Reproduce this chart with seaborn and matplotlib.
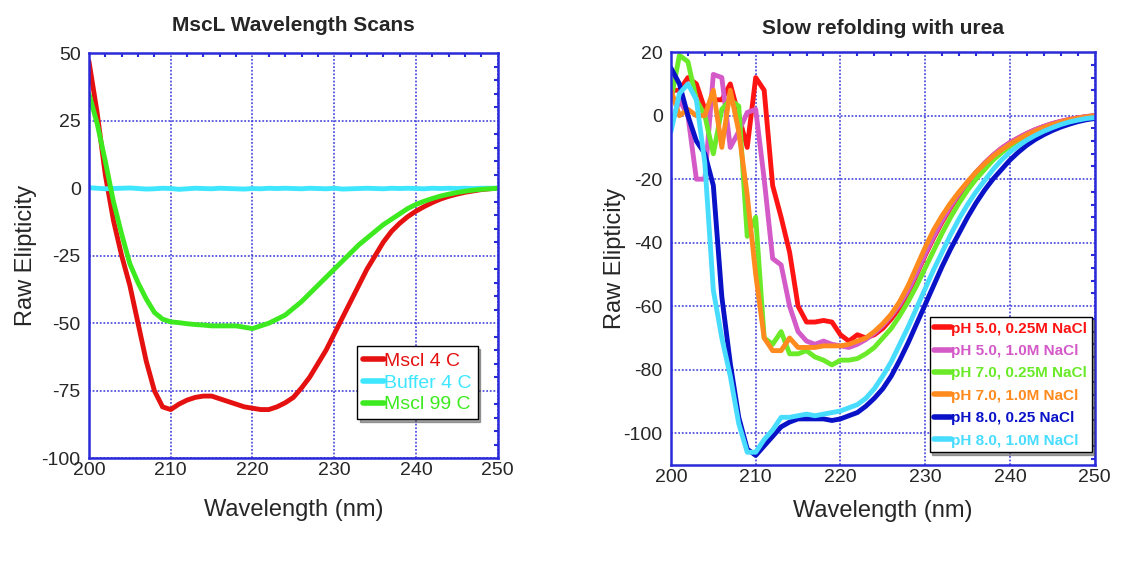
import numpy as np
import pandas as pd
import seaborn as sns
import matplotlib.pyplot as plt
from matplotlib.ticker import MultipleLocator

# dati (1 punto per nm, 200-250)
wl = list(range(200, 251))

mscl_4c = [47, 28, 5, -12, -25, -36, -50, -64, -75, -81, -82, -80, -78.5, -77.5, -77, -77,
           -78, -79, -80, -81, -81.5, -82, -82, -81, -79.5, -77.5, -74, -70, -65, -60, -54,
           -48, -42, -36, -30, -25, -20, -16, -13, -10.5, -8.5, -6.8, -5.3, -4, -3, -2.2,
           -1.5, -1, -0.5, -0.2, 0]
buffer_4c = [0.2, 0, -0.2, -0.1, 0, 0.1, -0.1, -0.3, -0.2, 0, -0.1, -0.4, -0.2, 0, -0.1,
             -0.2, 0, -0.1, -0.2, -0.3, -0.1, -0.2, 0, -0.1, 0, -0.1, -0.2, 0, -0.1, -0.2,
             0, -0.3, -0.2, -0.1, 0, -0.1, -0.2, 0, -0.1, 0, -0.1, -0.2, 0, -0.1, 0, -0.1,
             0, -0.1, 0, 0, 0]
mscl_99c = [35, 24, 10, -5, -17, -28, -35, -41, -46, -48.5, -49.5, -49.8, -50.2, -50.5,
            -50.7, -51, -51, -51, -51, -51.5, -52, -51, -50, -48.5, -47, -44.5, -42, -39,
            -36, -33, -30, -27, -24, -21, -18.5, -16, -13.5, -11.5, -9.5, -7.5, -6, -4.8,
            -3.8, -2.9, -2.2, -1.6, -1.1, -0.7, -0.4, -0.2, 0]

ph5_025 = [8, 8, 12, 10, 2, 5, 5, 10, 0, -10, 12, 8, -22, -32, -43, -60, -65, -65, -64.5,
           -65, -69, -71, -69, -70, -69, -67, -64, -60.5, -56, -50, -44, -38.5, -33.5,
           -29, -25, -21.5, -18, -15, -12.5, -10.3, -8.5, -7, -5.6, -4.4, -3.4, -2.5,
           -1.8, -1.2, -0.7, -0.3, 0]
ph5_10 = [-3, 5, 0, -20, -20, 13, 12, -10, -5, 1, 2, -20, -45, -47, -60, -68, -71, -72,
          -71, -72, -72.5, -73, -72, -70.5, -68.5, -66, -63, -59.5, -55, -49.5, -43.5,
          -38, -33, -28.5, -24.5, -21, -17.8, -15, -12.5, -10.3, -8.5, -7, -5.6, -4.4,
          -3.4, -2.5, -1.8, -1.2, -0.7, -0.3, 0]
ph7_025 = [5, 19, 17, 5, 0, -12, 2, 5, 3, -38, -32, -70, -72, -68, -75, -75, -74, -76, -77,
           -78.5, -77, -77, -76.5, -75, -73, -70, -67, -63, -58.5, -53.5, -48, -42.5, -37,
           -32, -27.5, -23.5, -20, -17, -14, -11.7, -9.6, -7.8, -6.3, -5, -3.9, -3, -2.2,
           -1.6, -1.1, -0.8, -0.6]
ph7_10 = [8, 0, 2, 0, 0, 8, -10, 8, -5, -25, -50, -70, -74, -74, -70, -73, -73, -73, -72.5,
          -72.5, -72.5, -72, -71, -70, -68, -65.5, -62.5, -58.5, -53.5, -47.5, -41.5, -36,
          -31.5, -27.5, -24, -20.8, -17.8, -15.2, -12.8, -10.8, -9, -7.4, -6, -4.8, -3.7,
          -2.8, -2, -1.3, -0.8, -0.4, 0]
ph8_025 = [15, 10, 0, -8, -12, -22, -57, -78, -95, -105, -107, -104, -101, -98, -96.5,
           -95.5, -95.5, -95.5, -95.5, -96, -95.5, -94.5, -93.5, -91.5, -89, -86, -82, -77,
           -71.5, -65.5, -59.5, -53.5, -47.5, -42, -37, -32, -27.5, -23.5, -20, -17, -14,
           -11.5, -9.3, -7.5, -6, -4.7, -3.6, -2.7, -1.9, -1.3, -0.9]
ph8_10 = [-5, 7, 10, 5, -15, -55, -70, -82, -97, -106, -106, -102, -99, -95, -95, -94.5,
          -94, -94.5, -94, -93.5, -93, -92, -91, -89, -86, -82, -77.5, -72, -66.5, -60.5,
          -54.5, -48.5, -43, -37.5, -32.5, -28, -24, -20.5, -17, -14, -11.5, -9.5, -7.7,
          -6.2, -4.9, -3.8, -2.8, -2, -1.4, -0.9, -0.6]

sx_labels = ['Mscl 4 C', 'Buffer 4 C', 'Mscl 99 C']
sx_colori = ['#e51010', '#3fe6ff', '#3dea1f']
dx_labels = ['pH 5.0, 0.25M NaCl', 'pH 5.0, 1.0M NaCl', 'pH 7.0, 0.25M NaCl',
             'pH 7.0, 1.0M NaCl', 'pH 8.0, 0.25 NaCl', 'pH 8.0, 1.0M NaCl']
dx_colori = ['#ff1414', '#d45ac8', '#6aea28', '#ff8a1e', '#0a12c8', '#48dcff']

df_sx = pd.DataFrame({'wl': wl * 3, 'ell': mscl_4c + buffer_4c + mscl_99c,
                      'serie': np.repeat(sx_labels, len(wl))})
df_dx = pd.DataFrame({'wl': wl * 6,
                      'ell': ph5_025 + ph5_10 + ph7_025 + ph7_10 + ph8_025 + ph8_10,
                      'serie': np.repeat(dx_labels, len(wl))})

sns.set_style('white')
plt.rcParams['font.family'] = ['Liberation Sans', 'DejaVu Sans']
plt.rcParams['axes.unicode_minus'] = False

fig = plt.figure(figsize=(11.45, 5.67), dpi=100)
ax1 = fig.add_axes([0.0777, 0.192, 0.357, 0.714])
ax2 = fig.add_axes([0.586, 0.180, 0.370, 0.728])

blu = '#2a2ad8'


def stile(ax, ylim, ymaj, ymin, anchor, fs_leg, spacing, xlpad, ylpad):
    ax.set_xlim(200, 250)
    ax.set_ylim(*ylim)
    ax.xaxis.set_major_locator(MultipleLocator(10))
    ax.xaxis.set_minor_locator(MultipleLocator(2))
    ax.yaxis.set_major_locator(MultipleLocator(ymaj))
    ax.yaxis.set_minor_locator(MultipleLocator(ymin))
    ax.grid(True, which='major', color=blu, linestyle=(0, (1, 1)), linewidth=1.3, alpha=0.8)
    for s in ax.spines.values():
        s.set_color(blu)
        s.set_linewidth(1.8)
    ax.tick_params(which='both', direction='in', color=blu, top=True, right=True,
                   labelsize=14)
    ax.tick_params(axis='x', pad=3)
    ax.tick_params(axis='y', pad=6)
    ax.tick_params(which='major', length=0)
    ax.tick_params(which='minor', length=3, width=1.5)
    ax.set_xlabel('Wavelength (nm)', fontsize=17, labelpad=xlpad)
    ax.set_ylabel('Raw Elipticity', fontsize=17, labelpad=ylpad)
    leg = ax.legend(loc='lower right', bbox_to_anchor=anchor, fontsize=fs_leg,
                    handlelength=1.1, handletextpad=0, borderpad=0.3, labelspacing=spacing,
                    fancybox=False, shadow=True, framealpha=1, borderaxespad=0)
    leg.get_frame().set_edgecolor('black')
    for testo, linea in zip(leg.get_texts(), leg.get_lines()):
        testo.set_color(linea.get_color())
        linea.set_linewidth(4)


sns.lineplot(data=df_sx, x='wl', y='ell', hue='serie', palette=sx_colori,
             hue_order=sx_labels, linewidth=3.5, ax=ax1)
stile(ax1, (-100, 50), 25, 5, (0.951, 0.096), 14, 0.22, 14, 3)
ax1.set_title('MscL Wavelength Scans', fontsize=15, fontweight='bold', pad=16)

sns.lineplot(data=df_dx, x='wl', y='ell', hue='serie', palette=dx_colori,
             hue_order=dx_labels, linewidth=3.5, ax=ax2)
stile(ax2, (-110, 20), 20, 4, (0.993, 0.031), 11, 0.55, 10, -2)
ax2.set_title('Slow refolding with urea', fontsize=15, fontweight='bold', pad=13)
for t in ax2.get_legend().get_texts():
    t.set_fontweight('bold')

fig.savefig('out.png', dpi=100)
